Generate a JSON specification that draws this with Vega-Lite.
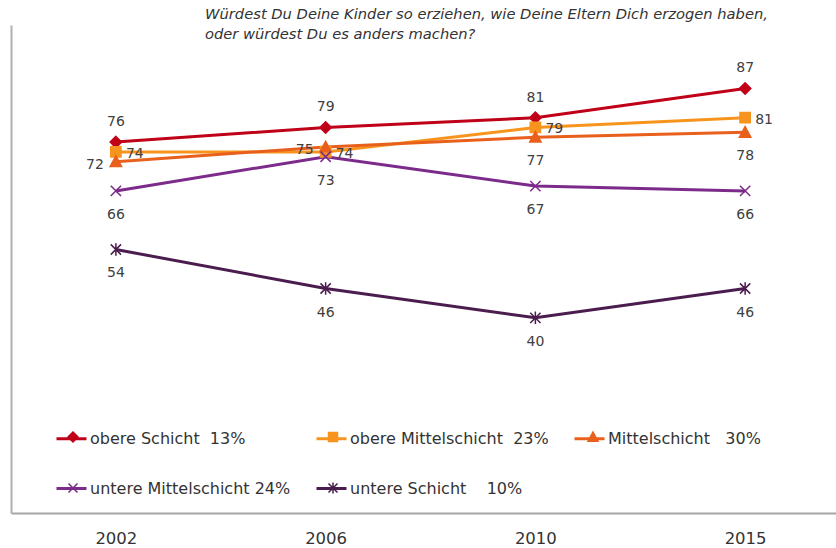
{
  "$schema": "https://vega.github.io/schema/vega-lite/v6.json",
  "width": 839,
  "height": 488,
  "autosize": {"type": "none"},
  "padding": {"left": 11, "top": 25, "right": 0, "bottom": 35},
  "background": "white",
  "title": {
    "text": ["Würdest Du Deine Kinder so erziehen, wie Deine Eltern Dich erzogen haben,", "oder würdest Du es anders machen?"],
    "anchor": "start",
    "frame": "group",
    "dx": 194,
    "offset": -17,
    "font": "DejaVu Sans",
    "fontSize": 14.7,
    "fontStyle": "italic",
    "fontWeight": "normal",
    "color": "#333333",
    "lineHeight": 20
  },
  "config": {"view": {"stroke": null}},
  "data": {
    "values": [
      {"year": "2002", "series": "obere Schicht\u00a0\u00a013%", "g": "oS", "value": 76},
      {"year": "2006", "series": "obere Schicht\u00a0\u00a013%", "g": "oS", "value": 79},
      {"year": "2010", "series": "obere Schicht\u00a0\u00a013%", "g": "oS", "value": 81},
      {"year": "2015", "series": "obere Schicht\u00a0\u00a013%", "g": "oS", "value": 87},
      {"year": "2002", "series": "obere Mittelschicht\u00a0\u00a023%", "g": "oM", "value": 74},
      {"year": "2006", "series": "obere Mittelschicht\u00a0\u00a023%", "g": "oM", "value": 74},
      {"year": "2010", "series": "obere Mittelschicht\u00a0\u00a023%", "g": "oM", "value": 79},
      {"year": "2015", "series": "obere Mittelschicht\u00a0\u00a023%", "g": "oM", "value": 81},
      {"year": "2002", "series": "Mittelschicht\u00a0\u00a0\u00a030%", "g": "M", "value": 72},
      {"year": "2006", "series": "Mittelschicht\u00a0\u00a0\u00a030%", "g": "M", "value": 75},
      {"year": "2010", "series": "Mittelschicht\u00a0\u00a0\u00a030%", "g": "M", "value": 77},
      {"year": "2015", "series": "Mittelschicht\u00a0\u00a0\u00a030%", "g": "M", "value": 78},
      {"year": "2002", "series": "untere Mittelschicht 24%", "g": "uM", "value": 66},
      {"year": "2006", "series": "untere Mittelschicht 24%", "g": "uM", "value": 73},
      {"year": "2010", "series": "untere Mittelschicht 24%", "g": "uM", "value": 67},
      {"year": "2015", "series": "untere Mittelschicht 24%", "g": "uM", "value": 66},
      {"year": "2002", "series": "untere Schicht\u00a0\u00a0\u00a0\u00a010%", "g": "uS", "value": 54},
      {"year": "2006", "series": "untere Schicht\u00a0\u00a0\u00a0\u00a010%", "g": "uS", "value": 46},
      {"year": "2010", "series": "untere Schicht\u00a0\u00a0\u00a0\u00a010%", "g": "uS", "value": 40},
      {"year": "2015", "series": "untere Schicht\u00a0\u00a0\u00a0\u00a010%", "g": "uS", "value": 46}
    ]
  },
  "encoding": {
    "x": {
      "field": "year", "type": "ordinal",
      "scale": {"type": "point", "padding": 0.5},
      "axis": {"title": null, "labelAngle": 0, "ticks": false, "grid": false, "domainColor": "#a6a6a6", "domainWidth": 2, "labelFont": "DejaVu Sans", "labelFontSize": 16.5, "labelColor": "#333333", "labelPadding": 17}
    },
    "y": {
      "field": "value", "type": "quantitative",
      "scale": {"domain": [0, 100], "nice": false},
      "axis": {"title": null, "labels": false, "ticks": false, "grid": false, "domainColor": "#b0b0b0", "domainWidth": 2}
    }
  },
  "layer": [
    {
      "mark": {"type": "line", "strokeWidth": 3},
      "encoding": {
        "color": {
          "field": "series", "type": "nominal",
          "scale": {
            "domain": ["obere Schicht\u00a0\u00a013%", "obere Mittelschicht\u00a0\u00a023%", "Mittelschicht\u00a0\u00a0\u00a030%", "untere Mittelschicht 24%", "untere Schicht\u00a0\u00a0\u00a0\u00a010%"],
            "range": ["#C00018", "#F7941E", "#E8601C", "#7D2B8B", "#4B1D4F"]
          },
          "legend": {
            "orient": "none", "legendX": 44, "legendY": 397, "direction": "horizontal", "columns": 3,
            "title": null, "symbolType": "stroke", "symbolSize": 900, "symbolStrokeWidth": 3,
            "labelFont": "DejaVu Sans", "labelFontSize": 16, "labelColor": "#333333", "labelOffset": 2,
            "columnPadding": 19, "rowPadding": 25, "labelLimit": 400, "zindex": 1
          }
        }
      }
    },
    {
      "mark": {"type": "point", "filled": true, "size": 130, "strokeWidth": 1.5, "opacity": 1},
      "encoding": {
        "shape": {
          "field": "g", "type": "nominal",
          "scale": {
            "domain": ["oS", "oM", "M", "uM", "uS"],
            "range": ["M0,-1L1,0L0,1L-1,0Z", "M-0.9,-0.9H0.9V0.9H-0.9Z", "M0,-1L1,0.85L-1,0.85Z", "M-0.9,-0.9L0.9,0.9M-0.9,0.9L0.9,-0.9", "M-0.9,-0.9L0.9,0.9M-0.9,0.9L0.9,-0.9M0,-1.1L0,1.1"]
          },
          "legend": {
            "orient": "none", "legendX": 54, "legendY": 404, "direction": "horizontal", "columns": 3,
            "title": null, "symbolSize": 100, "symbolStrokeWidth": 1.5,
            "labelFont": "DejaVu Sans", "labelFontSize": 16, "labelOffset": 0,
            "labelExpr": "''",
            "columnPadding": 244, "rowPadding": 34, "zindex": 2
          }
        },
        "fill": {
          "field": "g", "type": "nominal",
          "scale": {"domain": ["oS", "oM", "M", "uM", "uS"], "range": ["#C00018", "#F7941E", "#E8601C", "#7D2B8B", "#4B1D4F"]}
        },
        "stroke": {
          "field": "g", "type": "nominal",
          "scale": {"domain": ["oS", "oM", "M", "uM", "uS"], "range": ["#C00018", "#F7941E", "#E8601C", "#7D2B8B", "#4B1D4F"]}
        }
      }
    },
    {
      "transform": [{"filter": "datum.g == 'oS'"}],
      "mark": {"type": "text", "font": "DejaVu Sans", "fontSize": 14, "color": "#404040", "baseline": "middle", "dy": -20},
      "encoding": {"text": {"field": "value", "type": "quantitative"}}
    },
    {
      "transform": [{"filter": "datum.g == 'oM'"}],
      "mark": {"type": "text", "font": "DejaVu Sans", "fontSize": 14, "color": "#404040", "baseline": "middle", "align": "left", "dx": 10, "dy": 2},
      "encoding": {"text": {"field": "value", "type": "quantitative"}}
    },
    {
      "transform": [{"filter": "datum.g == 'M' && (datum.year == '2002' || datum.year == '2006')"}],
      "mark": {"type": "text", "font": "DejaVu Sans", "fontSize": 14, "color": "#404040", "baseline": "middle", "align": "right", "dx": -12, "dy": 3},
      "encoding": {"text": {"field": "value", "type": "quantitative"}}
    },
    {
      "transform": [{"filter": "(datum.g == 'M' && (datum.year == '2010' || datum.year == '2015')) || datum.g == 'uM' || datum.g == 'uS'"}],
      "mark": {"type": "text", "font": "DejaVu Sans", "fontSize": 14, "color": "#404040", "baseline": "middle", "dy": 24},
      "encoding": {"text": {"field": "value", "type": "quantitative"}}
    }
  ]
}
